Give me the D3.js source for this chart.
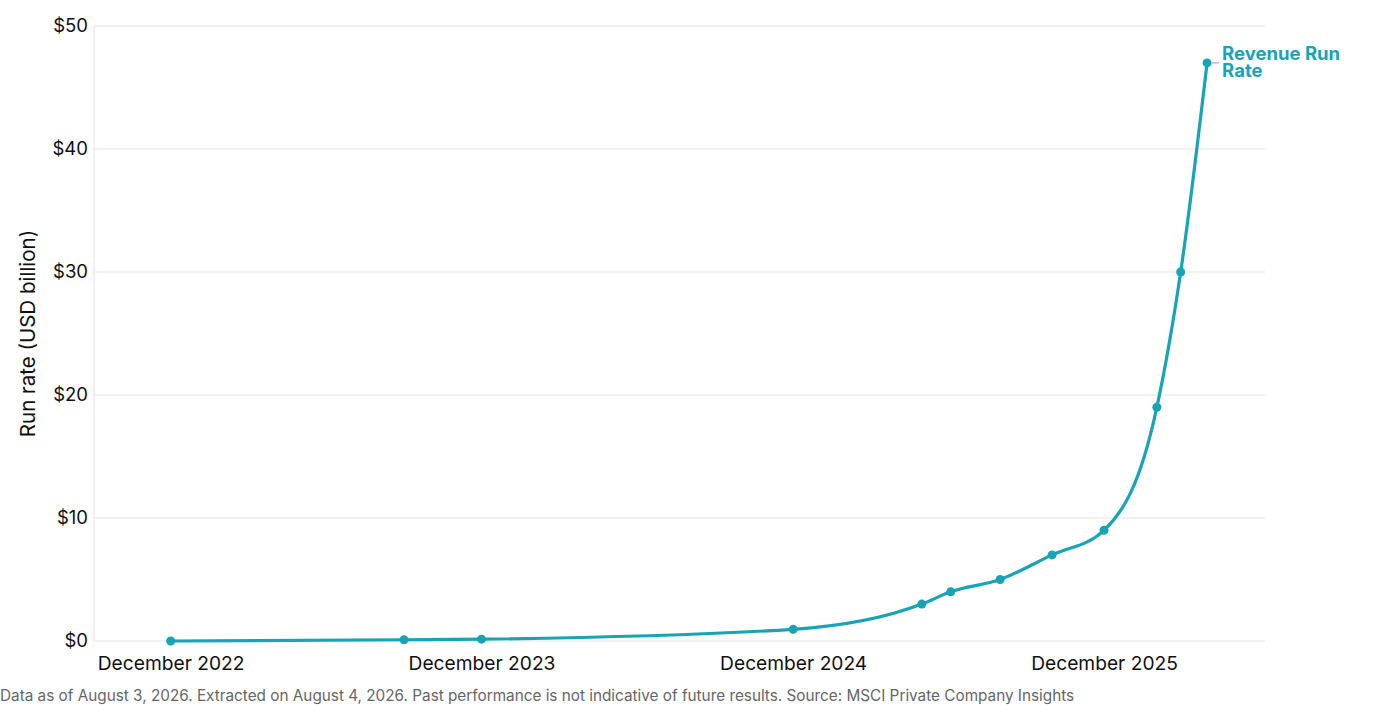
<!DOCTYPE html>
<html>
<head>
<meta charset="utf-8">
<script src="https://cdn.jsdelivr.net/npm/d3@7"></script>
<style>
  html, body { margin: 0; padding: 0; background: #fff; }
  svg { display: block; font-family: Inter, "Noto Sans", sans-serif; }
</style>
</head>
<body>
<svg id="chart" width="1400" height="715"></svg>
<script>
// data: month of the observation and run rate in USD billion
const dates = [
  "2022-12-01", "2023-09-01", "2023-12-01", "2024-12-01",
  "2025-05-01", "2025-06-04", "2025-08-01", "2025-10-01",
  "2025-12-01", "2026-02-01", "2026-03-01", "2026-04-01"
];
const runRate = [0, 0.1, 0.15, 0.95, 3, 4, 5, 7, 9, 19, 30, 47];
const yTicks = [0, 10, 20, 30, 40, 50];
const xTicks = ["2022-12-01", "2023-12-01", "2024-12-01", "2025-12-01"];
const seriesName = ["Revenue Run", "Rate"];
const footnote = "Data as of August 3, 2026. Extracted on August 4, 2026. Past performance is not indicative of future results. Source: MSCI Private Company Insights";

const parse = d3.utcParse("%Y-%m-%d");
const data = dates.map((d, i) => ({ date: parse(d), value: runRate[i] }));

const svg = d3.select("#chart");
const margin = { top: 26, right: 135, bottom: 74, left: 94 };
const width = 1400, height = 715;

const x = d3.scaleUtc()
  .domain([parse("2022-09-02"), parse("2026-06-08")])
  .range([margin.left, width - margin.right]);

const y = d3.scaleLinear()
  .domain([0, 50])
  .range([height - margin.bottom, margin.top]);

const teal = "#18a3b6";

// gridlines
svg.append("g")
  .selectAll("line")
  .data(yTicks)
  .join("line")
  .attr("x1", margin.left)
  .attr("x2", width - margin.right)
  .attr("y1", d => y(d))
  .attr("y2", d => y(d))
  .attr("stroke", "#ececec")
  .attr("stroke-width", 1.5);

// left axis line
svg.append("line")
  .attr("x1", margin.left)
  .attr("x2", margin.left)
  .attr("y1", y(50))
  .attr("y2", y(0))
  .attr("stroke", "#ececec")
  .attr("stroke-width", 1.5);

// y axis labels
const yAxis = svg.append("g")
  .attr("transform", `translate(${margin.left},0)`)
  .call(d3.axisLeft(y).tickValues(yTicks).tickSize(0).tickPadding(6).tickFormat(d => "$" + d));
yAxis.select(".domain").remove();
yAxis.selectAll("text")
  .attr("font-size", 18.5)
  .attr("fill", "#111")
  .attr("font-family", "Inter, sans-serif");

// x axis labels
const xAxis = svg.append("g")
  .attr("transform", `translate(0,${y(0)})`)
  .call(d3.axisBottom(x)
    .tickValues(xTicks.map(parse))
    .tickSize(0)
    .tickPadding(15)
    .tickFormat(d3.utcFormat("December %Y")));
xAxis.select(".domain").remove();
xAxis.selectAll("text")
  .attr("font-size", 19.2)
  .attr("fill", "#111")
  .attr("font-family", "Inter, sans-serif");

// y axis title
svg.append("text")
  .attr("transform", `translate(35,${(y(0) + y(50)) / 2}) rotate(-90)`)
  .attr("text-anchor", "middle")
  .attr("font-size", 20.5)
  .attr("fill", "#111")
  .text("Run rate (USD billion)");

// line
const line = d3.line()
  .x(d => x(d.date))
  .y(d => y(d.value))
  .curve(d3.curveMonotoneX);

svg.append("path")
  .datum(data)
  .attr("d", line)
  .attr("fill", "none")
  .attr("stroke", teal)
  .attr("stroke-width", 3.2)
  .attr("stroke-linejoin", "round");

svg.append("g")
  .selectAll("circle")
  .data(data)
  .join("circle")
  .attr("cx", d => x(d.date))
  .attr("cy", d => y(d.value))
  .attr("r", 4.5)
  .attr("fill", teal);

// series label
const last = data[data.length - 1];
svg.append("line")
  .attr("x1", x(last.date) + 5)
  .attr("x2", x(last.date) + 12)
  .attr("y1", y(last.value))
  .attr("y2", y(last.value))
  .attr("stroke", "#999")
  .attr("stroke-width", 1);

svg.append("text")
  .attr("x", x(last.date) + 15)
  .attr("y", y(last.value) - 3)
  .attr("font-size", 18.5)
  .attr("font-weight", 700)
  .attr("fill", teal)
  .selectAll("tspan")
  .data(seriesName)
  .join("tspan")
  .attr("x", x(last.date) + 15)
  .attr("dy", (d, i) => i === 0 ? 0 : 17)
  .text(d => d);

// footnote
svg.append("text")
  .attr("x", 0)
  .attr("y", 701)
  .attr("font-size", 15.3)
  .attr("fill", "#666")
  .text(footnote);
</script>
</body>
</html>
